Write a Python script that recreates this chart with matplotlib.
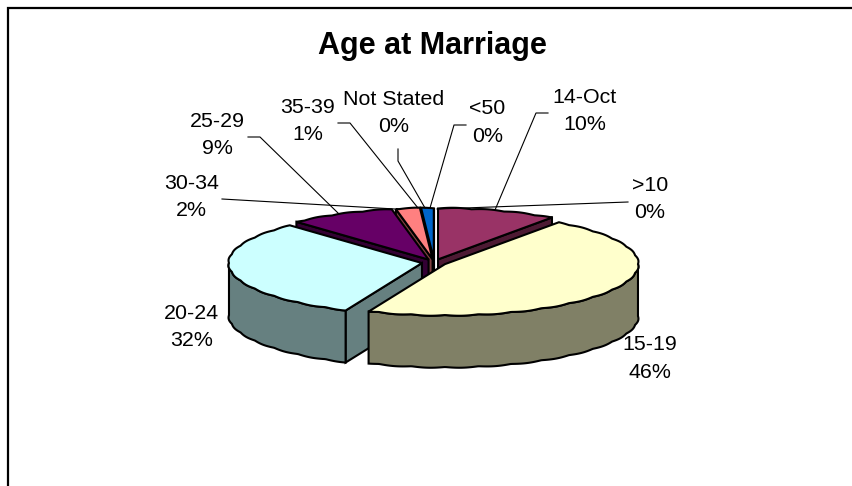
import numpy as np
import matplotlib
matplotlib.use("Agg")
import matplotlib.pyplot as plt
from matplotlib.patches import Polygon

plt.rcParams['font.family'] = ['Liberation Sans', 'DejaVu Sans']

categories = [">10", "14-Oct", "15-19", "20-24", "25-29", "30-34", "35-39", "Not Stated", "<50"]
values = [0.0, 10.0, 46.45, 31.6, 8.9, 2.0, 1.05, 0.0, 0.0]
colors = ["#9999FF", "#993366", "#FFFFCC", "#CCFFFF", "#660066", "#FF8080", "#0066CC", "#CCCCFF", "#000080"]

# pie geometry, pixels
CX, CY = 434.2, 262.5
RX, RY = 193.0, 50.9
DEPTH = 52
EXPLODE = 12.4
DRAW_ORDER = [6, 5, 4, 1, 3, 2]

# label centres and leader lines, pixels
label_pos = [(650, 199), (585, 111), (650, 358.5), (191.5, 327), (217.5, 135),
             (191.5, 197), (307.5, 121), (394, 113), (487.5, 122.5)]
leaders = [
    [(628, 202), (437, 209)],
    [(548, 113), (536, 113), (495, 210)],
    None,
    None,
    [(248, 137), (260, 137), (338, 213)],
    [(222, 199), (395, 209)],
    [(338, 123), (350, 123), (418, 208)],
    [(398, 149), (398, 161), (425, 208)],
    [(466, 125), (454, 125), (430, 208)],
]


def arc(c, a0, a1):
    # the original curve is coarse, it has small bumps along the rim
    n = max(int(abs(a1 - a0) * 2), 2)
    t = np.radians(np.linspace(a0, a1, n + 1))
    bump = 0.9 * np.abs(np.sin(t * 18))
    x = c[0] + (RX + bump) * np.cos(t)
    y = c[1] - (RY + bump) * np.sin(t)
    return np.column_stack([x, y])


def draw_wedge(ax, a0, a1, color):
    # a0 > a1, going clockwise
    mid = np.radians((a0 + a1) / 2)
    c = np.array([CX + EXPLODE * np.cos(mid), CY - EXPLODE * RY / RX * np.sin(mid)])
    down = np.array([0, DEPTH])
    top = arc(c, a0, a1)
    side = np.array(matplotlib.colors.to_rgb(color)) / 2
    style = dict(facecolor=side, edgecolor="black", linewidth=1.5)
    # cut faces, only the ones turned to the viewer
    if np.sin(np.radians(a0 + 90)) < 0:
        ax.add_patch(Polygon([c, top[0], top[0] + down, c + down], **style))
    if np.sin(np.radians(a1 - 90)) < 0:
        ax.add_patch(Polygon([c, top[-1], top[-1] + down, c + down], **style))
    # outer rim, front half only
    lo, hi = max(a1, -180), min(a0, 0)
    if hi > lo:
        front = arc(c, hi, lo)
        ax.add_patch(Polygon(np.vstack([front, (front + down)[::-1]]), **style))
    ax.add_patch(Polygon(np.vstack([[c], top]), facecolor=color, edgecolor="black", linewidth=1.5))


fig = plt.figure(figsize=(8.52, 4.86), dpi=100)
ax = fig.add_axes([0, 0, 1, 1])
ax.set_xlim(0, 852)
ax.set_ylim(486, 0)
ax.axis("off")

# chart area border, cut by the image on the right and at the bottom
ax.plot([8, 8, 860], [490, 7.8, 7.8], color="black", lw=1.6, solid_joinstyle="miter")

edges = 90 - np.cumsum([0] + values) * 3.6
for i in DRAW_ORDER:
    draw_wedge(ax, edges[i], edges[i + 1], colors[i])

for line in leaders:
    if line is not None:
        ax.plot(*zip(*line), color="black", lw=0.8)

for name, v, (x, y) in zip(categories, values, label_pos):
    ax.text(x, y, f"{name}\n{v:.0f}%", ha="center", va="center", fontsize=15.4, linespacing=1.54, color="black")

ax.text(432, 46, "Age at Marriage", ha="center", va="center", fontsize=22, fontweight="bold", color="black")

fig.savefig("out.png", dpi=100, facecolor="white")
